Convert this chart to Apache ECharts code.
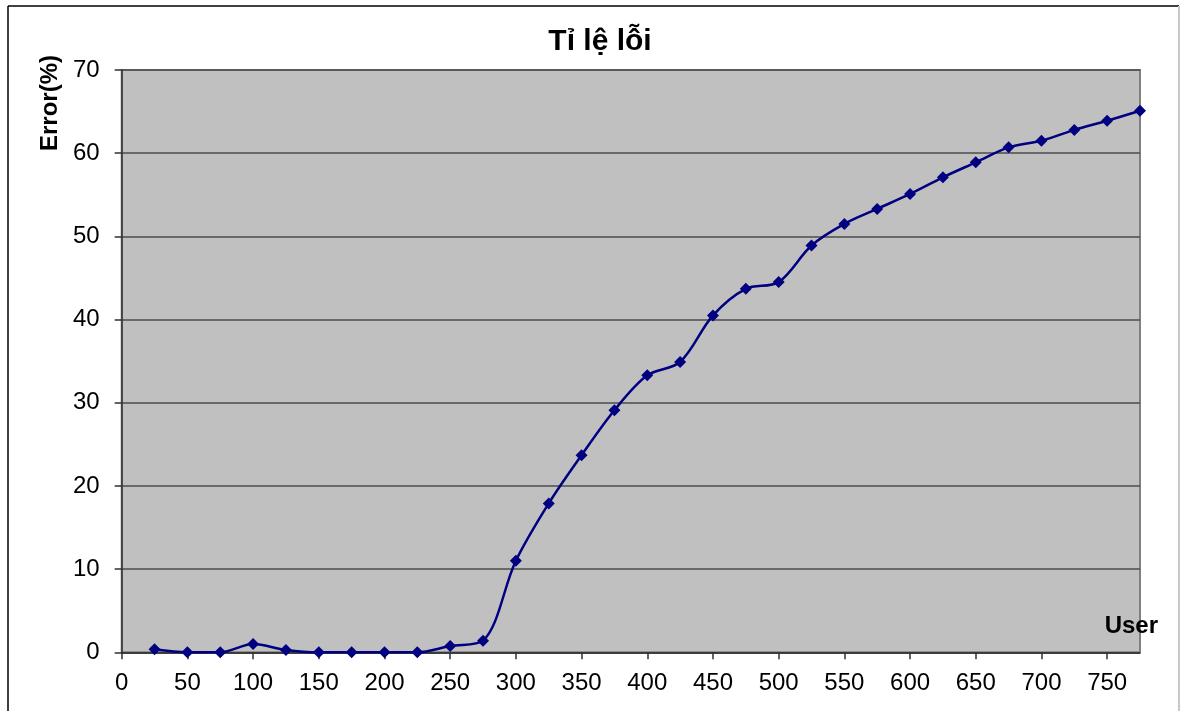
<!DOCTYPE html>
<html>
<head>
<meta charset="utf-8">
<script src="https://cdn.jsdelivr.net/npm/echarts@6/dist/echarts.min.js"></script>
<style>
html,body{margin:0;padding:0;background:#fff;}
#c{width:1181px;height:711px;}
</style>
</head>
<body>
<div id="c"></div>
<script>
var users = [25,50,75,100,125,150,175,200,225,250,275,300,325,350,375,400,425,450,475,500,525,550,575,600,625,650,675,700,725,750,775];
var errors = [0.36,0,0,1.0,0.28,0,0,0,0,0.76,1.4,11.0,17.9,23.7,29.1,33.3,34.9,40.5,43.7,44.5,48.9,51.5,53.3,55.1,57.1,58.9,60.7,61.5,62.8,63.9,65.1];
var xTicks = [0,50,100,150,200,250,300,350,400,450,500,550,600,650,700,750];
var titleText = 'Tỉ lệ lỗi';
var yName = 'Error(%)';
var xName = 'User';

var chart = echarts.init(document.getElementById('c'), null, {renderer:'canvas'});
var font = '"Liberation Sans", Arial, sans-serif';
var option = {
  animation: false,
  backgroundColor: '#ffffff',
  grid: {
    left: 121.7, right: 41, top: 70, bottom: 58.7,
    show: true, backgroundColor: '#c0c0c0', borderColor: '#808080', borderWidth: 2,
    containLabel: false
  },
  xAxis: {
    type: 'value', min: 0, max: 775, interval: 50,
    axisLine: {show: true, onZero: false, lineStyle: {color: '#303030', width: 1.5}},
    axisTick: {show: true, length: 7, customValues: xTicks, lineStyle: {color: '#303030', width: 1.5}},
    axisLabel: {show: true, customValues: xTicks, margin: 19, color: '#000', fontFamily: font, fontSize: 24},
    splitLine: {show: false}
  },
  yAxis: {
    type: 'value', min: 0, max: 70, interval: 10,
    axisLine: {show: true, lineStyle: {color: '#303030', width: 1.5}},
    axisTick: {show: true, length: 7, lineStyle: {color: '#303030', width: 1.5}},
    axisLabel: {margin: 22, color: '#000', fontFamily: font, fontSize: 24},
    splitLine: {show: true, lineStyle: {color: '#4d4d4d', width: 1.5}}
  },
  series: [{
    type: 'line',
    data: users.map(function(u, i){ return [u, errors[i]]; }),
    smooth: 0.33,
    symbol: 'diamond',
    symbolSize: 12,
    showAllSymbol: true,
    clip: false,
    lineStyle: {color: '#000080', width: 2.5},
    itemStyle: {color: '#000080'}
  }],
  graphic: [
    {type: 'line', shape: {x1: 8, y1: 6, x2: 1179, y2: 6}, style: {stroke: '#000', lineWidth: 1.5}},
    {type: 'line', shape: {x1: 8, y1: 6, x2: 8, y2: 711}, style: {stroke: '#000', lineWidth: 1.5}},
    {type: 'line', shape: {x1: 1179, y1: 6, x2: 1179, y2: 711}, style: {stroke: '#c8c8c8', lineWidth: 2}},
    {type: 'text', x: 600, y: 42, style: {text: titleText, font: 'bold 30px ' + font, fill: '#000', textAlign: 'center', textVerticalAlign: 'middle'}},
    {type: 'text', x: 50, y: 103, rotation: Math.PI/2, style: {text: yName, font: 'bold 24px ' + font, fill: '#000', textAlign: 'center', textVerticalAlign: 'middle'}},
    {type: 'text', x: 1158, y: 626, z: 1, style: {text: xName, font: 'bold 24px ' + font, fill: '#000', textAlign: 'right', textVerticalAlign: 'middle'}}
  ]
};
chart.setOption(option);
</script>
</body>
</html>
